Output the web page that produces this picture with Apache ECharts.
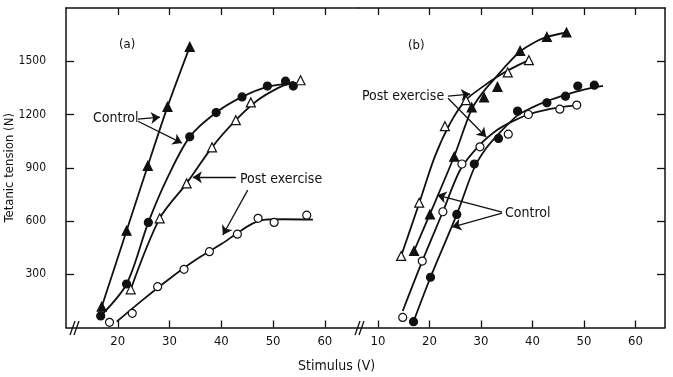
<!DOCTYPE html>
<html><head><meta charset="utf-8">
<script src="https://cdn.jsdelivr.net/npm/echarts@6/dist/echarts.min.js"></script>
<style>html,body{margin:0;padding:0;background:#fff}#c{width:673px;height:377px}</style>
</head><body><div id="c"></div>
<script>
// ---- tick labels ----
const yTicks = [300, 600, 900, 1200, 1500];
const xTicksA = [20, 30, 40, 50, 60];
const xTicksB = [10, 20, 30, 40, 50, 60];

// ---- panel (a) data points ----
const aCtrlTriX = [16.9, 21.7, 25.8, 29.6, 33.9];
const aCtrlTriY = [117, 545, 911, 1243, 1581];
const aCtrlDotX = [16.7, 21.7, 25.9, 33.9, 39.0, 44.0, 48.9, 52.4, 53.9];
const aCtrlDotY = [65, 245, 592, 1074, 1211, 1299, 1360, 1388, 1360];
const aPostTriX = [22.5, 28.1, 33.3, 38.2, 42.8, 45.7, 55.3];
const aPostTriY = [215, 615, 812, 1015, 1168, 1268, 1393];
const aPostCircX = [18.4, 22.8, 27.7, 32.8, 37.7, 43.1, 47.1, 50.2, 56.5];
const aPostCircY = [29, 80, 230, 328, 427, 526, 615, 592, 633];

// ---- panel (a) fitted curves ----
const aCtrlTriFitX = [16.9, 21.7, 25.8, 29.6, 33.9];
const aCtrlTriFitY = [117, 545, 911, 1243, 1581];
const aCtrlDotFitX = [16.7, 21.7, 25.9, 29.7, 33.9, 39, 44, 48.9, 53.9];
const aCtrlDotFitY = [65, 245, 592, 850, 1074, 1211, 1299, 1356, 1375];
const aPostTriFitX = [22.5, 28.1, 33.3, 38.2, 42.8, 47, 51, 54];
const aPostTriFitY = [215, 615, 812, 1015, 1168, 1280, 1350, 1385];
const aPostCircFitX = [19.8, 25, 30, 35, 40, 43, 46, 48.5, 52, 57.7];
const aPostCircFitY = [33, 160, 275, 380, 470, 530, 585, 608, 610, 608];

// ---- panel (b) data points ----
const bOpenTriX = [14.5, 18.0, 23.0, 27.1, 35.2, 39.3];
const bOpenTriY = [403, 703, 1134, 1281, 1437, 1506];
const bFillTriX = [17.0, 20.1, 24.8, 28.2, 30.6, 33.2, 37.6, 42.8, 46.6];
const bFillTriY = [431, 637, 962, 1240, 1296, 1356, 1558, 1637, 1662];
const bOpenCircX = [14.8, 18.6, 22.6, 26.3, 29.8, 35.3, 39.2, 45.3, 48.6];
const bOpenCircY = [57, 374, 652, 921, 1018, 1089, 1200, 1230, 1253];
const bFillDotX = [16.9, 20.2, 25.3, 28.7, 33.4, 37.1, 42.8, 46.4, 48.8, 52.0];
const bFillDotY = [33, 283, 637, 921, 1065, 1219, 1266, 1303, 1360, 1365];

// ---- panel (b) fitted curves ----
const bOpenTriFitX = [14.5, 18, 21, 24, 27, 30.5, 33, 36, 39.3];
const bOpenTriFitY = [403, 700, 960, 1150, 1280, 1360, 1410, 1460, 1506];
const bFillTriFitX = [17, 20.1, 24.8, 28.2, 30.5, 32.7, 35, 37.6, 40, 42.8, 46.6];
const bFillTriFitY = [431, 640, 965, 1230, 1330, 1403, 1480, 1555, 1600, 1637, 1662];
const bOpenCircFitX = [14.8, 18.6, 22.6, 26, 29.8, 33, 36, 39.2, 42, 45.3, 48.6];
const bOpenCircFitY = [93, 374, 652, 890, 1030, 1110, 1160, 1200, 1222, 1240, 1253];
const bFillDotFitX = [16.9, 20.2, 25.3, 28.7, 31, 33.4, 37.1, 40, 42.8, 46.4, 50, 53.7];
const bFillDotFitY = [33, 283, 637, 900, 1010, 1090, 1195, 1240, 1275, 1310, 1340, 1361];

const zip = (xs, ys) => xs.map((x, i) => [x, ys[i]]);
const FONT = "'Liberation Sans Narrow','DejaVu Sans Condensed','Roboto Condensed',sans-serif";
const black = '#111';

function pointSeries(xs, ys, sym, filled, gi, yi) {
  return {
    type: 'scatter', xAxisIndex: gi, yAxisIndex: yi, data: zip(xs, ys),
    symbol: sym, symbolSize: sym === 'triangle' ? 9 : 8, z: 5,
    itemStyle: { color: filled ? black : '#fff', borderColor: black, borderWidth: 1.2, opacity: 1 }
  };
}
function fitSeries(xs, ys, gi, yi, arrows) {
  const s = {
    type: 'line', xAxisIndex: gi, yAxisIndex: yi, data: zip(xs, ys),
    smooth: 0.3, showSymbol: false, symbol: 'none',
    lineStyle: { color: black, width: 1.8 }, z: 3
  };
  if (arrows) {
    s.markLine = {
      silent: true, symbol: ['none', 'arrow'], symbolSize: 9,
      lineStyle: { color: black, width: 1.3, type: 'solid' }, label: { show: false },
      emphasis: { disabled: true },
      data: arrows.map(a => [{ coord: a[0] }, { coord: a[1] }])
    };
  }
  return s;
}

function xAx(gi, min, max, ticks, pos, labels) {
  return {
    type: 'value', gridIndex: gi, min: min, max: max, position: pos,
    axisLine: { show: true, onZero: false, lineStyle: { color: black, width: 1.5 } },
    axisTick: { show: true, inside: true, length: 7, customValues: ticks, lineStyle: { color: black, width: 1.3 } },
    axisLabel: { show: labels, customValues: ticks, color: black, fontFamily: FONT, fontSize: 13, margin: 8 },
    splitLine: { show: false }
  };
}

const option = {
  animation: false,
  backgroundColor: '#fff',
  grid: [
    { left: 66, top: 8, width: 292, height: 319.5 },
    { left: 358, top: 8, width: 307, height: 319.5 }
  ],
  xAxis: [
    xAx(0, 10, 66.4, xTicksA, 'bottom', true),
    xAx(1, 6.12, 65.73, xTicksB, 'bottom', true),
    xAx(0, 10, 66.4, xTicksA, 'top', false),
    xAx(1, 6.12, 65.73, xTicksB, 'top', false)
  ],
  yAxis: [
    {
      type: 'value', gridIndex: 0, min: 0, max: 1800, position: 'left',
      name: 'Tetanic tension (N)', nameLocation: 'middle', nameGap: 50, nameMoveOverlap: false,
      nameTextStyle: { color: black, fontFamily: FONT, fontSize: 13 },
      axisLine: { show: true, lineStyle: { color: black, width: 1.5 } },
      axisTick: { show: true, inside: true, length: 8, customValues: yTicks, lineStyle: { color: black, width: 1.3 } },
      axisLabel: { customValues: yTicks, formatter: v => String(v), color: black, fontFamily: FONT, fontSize: 12, margin: 20 },
      splitLine: { show: false }
    },
    {
      type: 'value', gridIndex: 1, min: 0, max: 1800, position: 'left',
      axisLine: { show: false }, axisTick: { show: false }, axisLabel: { show: false }, splitLine: { show: false }
    },
    {
      type: 'value', gridIndex: 1, min: 0, max: 1800, position: 'right',
      axisLine: { show: true, lineStyle: { color: black, width: 1.5 } },
      axisTick: { show: true, inside: true, length: 8, customValues: yTicks, lineStyle: { color: black, width: 1.3 } },
      axisLabel: { show: false }, splitLine: { show: false }
    }
  ],
  series: [
    fitSeries(aCtrlTriFitX, aCtrlTriFitY, 0, 0, [[[23.9, 1174], [28.15, 1185]], [[23.9, 1162], [32.4, 1039]]]),
    fitSeries(aCtrlDotFitX, aCtrlDotFitY, 0, 0),
    fitSeries(aPostTriFitX, aPostTriFitY, 0, 0, [[[42.8, 846], [34.5, 846]], [[45.1, 774], [40.3, 521]]]),
    fitSeries(aPostCircFitX, aPostCircFitY, 0, 0),
    pointSeries(aCtrlTriX, aCtrlTriY, 'triangle', true, 0, 0),
    pointSeries(aCtrlDotX, aCtrlDotY, 'circle', true, 0, 0),
    pointSeries(aPostTriX, aPostTriY, 'triangle', false, 0, 0),
    pointSeries(aPostCircX, aPostCircY, 'circle', false, 0, 0),

    fitSeries(bOpenTriFitX, bOpenTriFitY, 1, 1, [[[23.6, 1303], [27.9, 1315]], [[23.6, 1292], [31.0, 1073]]]),
    fitSeries(bFillTriFitX, bFillTriFitY, 1, 1, [[[34.1, 650], [21.5, 746]], [[34.1, 645], [24.4, 566]]]),
    fitSeries(bOpenCircFitX, bOpenCircFitY, 1, 1),
    fitSeries(bFillDotFitX, bFillDotFitY, 1, 1),
    pointSeries(bOpenTriX, bOpenTriY, 'triangle', false, 1, 1),
    pointSeries(bFillTriX, bFillTriY, 'triangle', true, 1, 1),
    pointSeries(bOpenCircX, bOpenCircY, 'circle', false, 1, 1),
    pointSeries(bFillDotX, bFillDotY, 'circle', true, 1, 1)
  ],
  graphic: [
    { type: 'text', left: 119, top: 38, style: { text: '(a)', font: '13px ' + FONT, fill: black } },
    { type: 'text', left: 408, top: 39, style: { text: '(b)', font: '13px ' + FONT, fill: black } },
    { type: 'text', left: 93, top: 111, style: { text: 'Control', font: '14px ' + FONT, fill: black } },
    { type: 'text', left: 240, top: 172, style: { text: 'Post exercise', font: '14px ' + FONT, fill: black } },
    { type: 'text', left: 362, top: 89, style: { text: 'Post exercise', font: '14px ' + FONT, fill: black } },
    { type: 'text', left: 505, top: 206, style: { text: 'Control', font: '14px ' + FONT, fill: black } },
    { type: 'text', left: 298, top: 359, style: { text: 'Stimulus (V)', font: '14px ' + FONT, fill: black } },
    // axis-break marks
    { type: 'line', shape: { x1: 70, y1: 335, x2: 75, y2: 321 }, style: { stroke: black, lineWidth: 1.3 } },
    { type: 'line', shape: { x1: 74, y1: 335, x2: 79, y2: 321 }, style: { stroke: black, lineWidth: 1.3 } },
    { type: 'line', shape: { x1: 355, y1: 335, x2: 360, y2: 321 }, style: { stroke: black, lineWidth: 1.3 } },
    { type: 'line', shape: { x1: 359, y1: 335, x2: 364, y2: 321 }, style: { stroke: black, lineWidth: 1.3 } }
  ]
};
const chart = echarts.init(document.getElementById('c'), null, { renderer: 'canvas' });
chart.setOption(option);
</script></body></html>
